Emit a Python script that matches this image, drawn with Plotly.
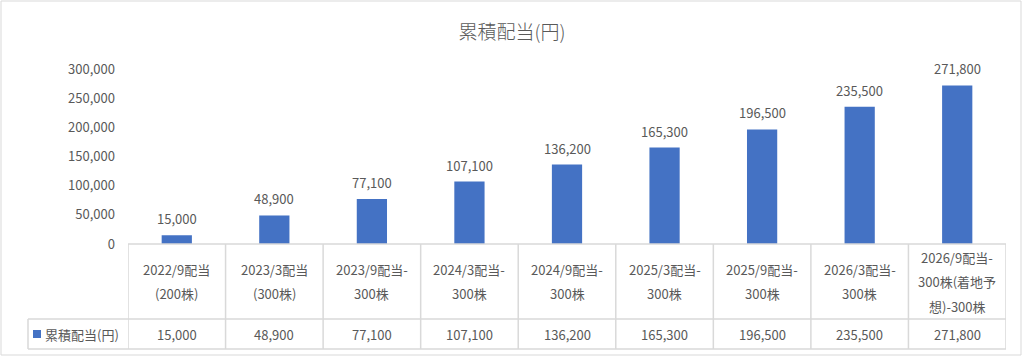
import plotly.graph_objects as go

title = "累積配当(円)"
series_name = "累積配当(円)"
category_lines = [
    ["2022/9配当", "(200株)"],
    ["2023/3配当", "(300株)"],
    ["2023/9配当-", "300株"],
    ["2024/3配当-", "300株"],
    ["2024/9配当-", "300株"],
    ["2025/3配当-", "300株"],
    ["2025/9配当-", "300株"],
    ["2026/3配当-", "300株"],
    ["2026/9配当-", "300株(着地予", "想)-300株"],
]
values = [15000, 48900, 77100, 107100, 136200, 165300, 196500, 235500, 271800]
y_ticks = [0, 50000, 100000, 150000, 200000, 250000, 300000]

W, H = 1024, 358
L, R, T, B = 128, 18, 69, 114
PW = W - L - R
PH = H - T - B

def px(xp):
    return (xp - L) / PW

def py(yp):
    return (H - B - yp) / PH

FONT = "Noto Sans CJK JP, Noto Sans, sans-serif"
GRAY = "#595959"
LINE = "#d9d9d9"
BLUE = "#4472C4"

n = len(values)
fmt = lambda v: f"{v:,}"

fig = go.Figure()
fig.add_trace(go.Bar(
    x=list(range(n)), y=values, marker_color=BLUE, marker_line_width=0,
    showlegend=False, hoverinfo="skip",
))

shapes = []
annotations = []
# data labels above bars
for i, v in enumerate(values):
    annotations.append(dict(text=fmt(v), xref="x", yref="y", x=i, y=v,
                            xanchor="center", yanchor="bottom", yshift=5, showarrow=False,
                            font=dict(family=FONT, size=13, color=GRAY)))
# outer chart border
shapes.append(dict(type="rect", xref="paper", yref="paper",
                   x0=px(1), x1=px(1021), y0=py(1), y1=py(355),
                   line=dict(color=LINE, width=1)))
table_top = py(244)
row_sep = py(319)
table_bot = py(349)
# horizontal lines
shapes.append(dict(type="line", xref="x", yref="paper", x0=-0.5, x1=n - 0.5,
                   y0=table_top, y1=table_top, line=dict(color=LINE, width=1.5)))
for yy in (row_sep, table_bot):
    shapes.append(dict(type="line", xref="paper", yref="paper", x0=px(28), x1=px(L + PW),
                       y0=yy, y1=yy, line=dict(color=LINE, width=1.5)))
# vertical lines
for i in range(n + 1):
    shapes.append(dict(type="line", xref="x", yref="paper", x0=i - 0.5, x1=i - 0.5,
                       y0=table_top, y1=table_bot, line=dict(color=LINE, width=1.5)))
shapes.append(dict(type="line", xref="paper", yref="paper", x0=px(28), x1=px(28),
                   y0=row_sep, y1=table_bot, line=dict(color=LINE, width=1.5)))
# legend key square
shapes.append(dict(type="rect", xref="paper", yref="paper", x0=px(33), x1=px(41),
                   y0=py(338), y1=py(330), fillcolor=BLUE, line=dict(width=0)))
annotations.append(dict(text=series_name, xref="paper", yref="paper", x=px(43), y=py(334),
                        xanchor="left", yanchor="middle", showarrow=False,
                        font=dict(family=FONT, size=13, color=GRAY)))

spacing = 24.5
center = 281.5
for i, lines in enumerate(category_lines):
    m = len(lines)
    for k, line in enumerate(lines):
        yp = center + (k - (m - 1) / 2) * spacing
        annotations.append(dict(text=line, xref="x", yref="paper", x=i, y=py(yp),
                                xanchor="center", yanchor="middle", showarrow=False,
                                font=dict(family=FONT, size=13, color=GRAY)))
    annotations.append(dict(text=fmt(values[i]), xref="x", yref="paper", x=i, y=py(334),
                            xanchor="center", yanchor="middle", showarrow=False,
                            font=dict(family=FONT, size=13, color=GRAY)))

fig.update_layout(
    width=W, height=H,
    margin=dict(l=L, r=R, t=T, b=B, pad=0),
    paper_bgcolor="white", plot_bgcolor="white",
    title=dict(text=title, x=0.5, xref="container", xanchor="center",
               y=1 - 32 / H, yanchor="middle",
               font=dict(family=FONT, size=19, color=GRAY, weight=300)),
    bargap=0.69,
    xaxis=dict(range=[-0.5, n - 0.5], showticklabels=False, showgrid=False,
               zeroline=False, showline=False, fixedrange=True),
    yaxis=dict(range=[0, 300000], tickvals=y_ticks, ticktext=[fmt(v) for v in y_ticks],
               showgrid=False, zeroline=False, showline=False, ticks="",
               ticklabelstandoff=12,
               tickfont=dict(family=FONT, size=13, color=GRAY), fixedrange=True),
    shapes=shapes, annotations=annotations,
)
fig.write_html("out.html", config={"displayModeBar": False},
               post_script="document.body.style.margin='0';document.body.style.overflow='hidden';")
